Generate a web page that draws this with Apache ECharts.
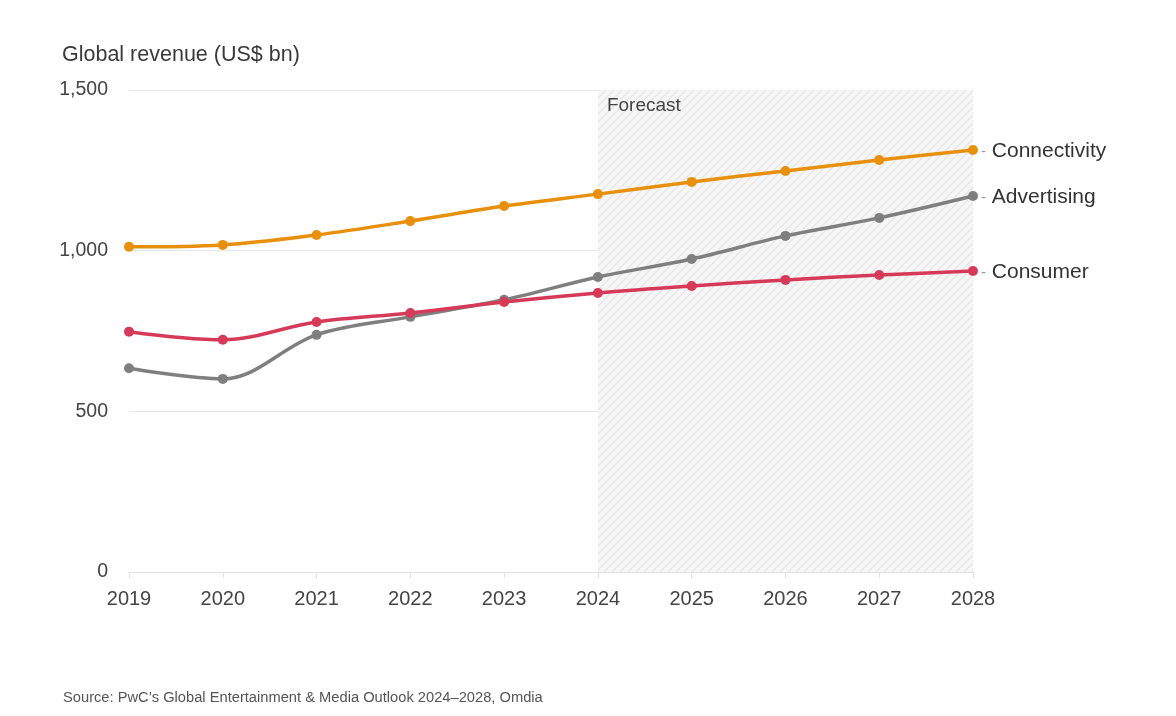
<!DOCTYPE html>
<html><head><meta charset="utf-8">
<script src="https://cdn.jsdelivr.net/npm/echarts@6/dist/echarts.min.js"></script>
<style>html,body{margin:0;padding:0;background:#fff}#c{width:1176px;height:716px}</style>
</head><body><div id="c"></div>
<script>
const years = ['2019','2020','2021','2022','2023','2024','2025','2026','2027','2028'];
const connectivity = [1012, 1018, 1049, 1092, 1139, 1176, 1214, 1248, 1282, 1313];
const advertising = [634, 601, 738, 794, 847, 918, 974, 1046, 1102, 1170];
const consumer = [748, 723, 778, 806, 840, 868, 890, 909, 924, 937];
const yTicks = [0, 500, 1000, 1500];

const pc = document.createElement('canvas');
pc.width = 8; pc.height = 8;
const g = pc.getContext('2d');
g.fillStyle = '#f6f6f6'; g.fillRect(0,0,8,8);
g.strokeStyle = '#e4e4e4'; g.lineWidth = 1.2;
g.beginPath();
g.moveTo(0,8); g.lineTo(8,0);
g.moveTo(-4,4); g.lineTo(4,-4);
g.moveTo(4,12); g.lineTo(12,4);
g.stroke();

const font = 'Helvetica, "Liberation Sans", Arial, sans-serif';
function mk(name, data, color, withArea){
  const s = {
    name, type:'line', data, smooth:0.35, symbol:'circle', symbolSize:10,
    lineStyle:{width:3.5,color}, itemStyle:{color},
    endLabel:{show:true, formatter:'{d|-} '+name, color:'#333', fontSize:21, fontFamily:font, distance:8,
      padding:[3,0,0,0], rich:{d:{color:'#999', fontSize:15}}},
    z:3
  };
  if (withArea) {
    s.markArea = {silent:true, itemStyle:{color:{image:pc, repeat:'repeat'}},
      label:{show:true, position:'insideTopLeft', color:'#444', fontSize:19, fontFamily:font, offset:[4,1]},
      data:[[{name:'Forecast', xAxis:'2024', yAxis:0},{xAxis:'2028', yAxis:1500}]]};
  }
  return s;
}
const chart = echarts.init(document.getElementById('c'));
chart.setOption({
  animation:false,
  textStyle:{fontFamily:font},
  title:[
    {text:'Global revenue (US$ bn)', left:57, top:39, textStyle:{fontSize:21.5, fontWeight:'normal', color:'#3a3a3a', fontFamily:font}},
    {text:'Source: PwC\u2019s Global Entertainment & Media Outlook 2024\u20132028, Omdia', left:58, top:685, textStyle:{fontSize:14.7, fontWeight:'normal', color:'#555', fontFamily:font}}
  ],
  grid:{left:129, right:203, top:90, bottom:144},
  xAxis:{type:'category', data:years, boundaryGap:false,
    axisLine:{lineStyle:{color:'#e2e2e2'}}, axisTick:{show:true, length:6, lineStyle:{color:'#e2e2e2'}},
    axisLabel:{color:'#444', fontSize:20, margin:17, fontFamily:font}},
  yAxis:{type:'value', min:0, max:1500, interval:500,
    axisLine:{show:false}, axisTick:{show:false},
    splitLine:{lineStyle:{color:'#e6e6e6'}},
    axisLabel:{color:'#444', fontSize:19.5, margin:21, fontFamily:font, padding:[3,0,0,0], formatter:v=>v.toLocaleString('en-US')}},
  series:[mk('Connectivity', connectivity, '#e8900c', true), mk('Advertising', advertising, '#7f7f7f'), mk('Consumer', consumer, '#d63a58')]
});
</script></body></html>
